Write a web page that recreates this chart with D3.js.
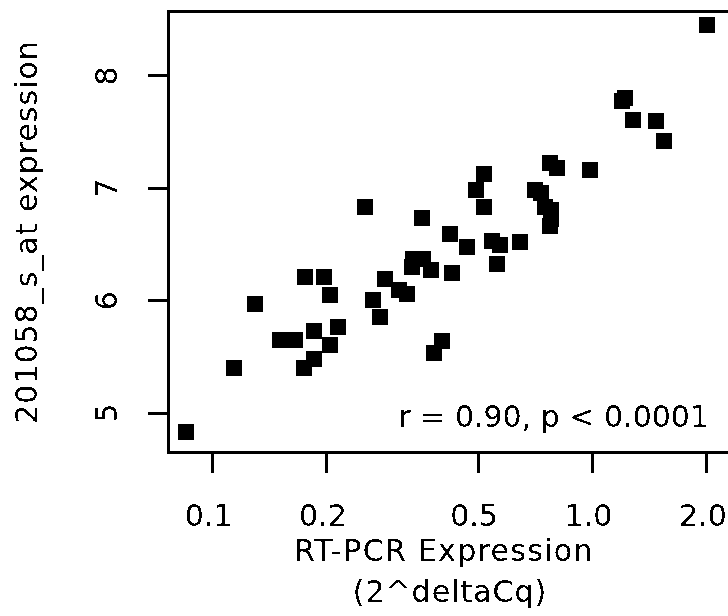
<!DOCTYPE html>
<html>
<head>
<meta charset="utf-8">
<script src="https://cdn.jsdelivr.net/npm/d3@7/dist/d3.min.js"></script>
<style>
    html, body { margin: 0; padding: 0; background: #fff; }
    svg { display: block; }
    text { font-family: "DejaVu Sans", sans-serif; font-size: 30px; fill: #000; }
</style>
</head>
<body>
<div id="chart"></div>
<script>
// RT-PCR expression (2^deltaCq), log axis
const rtPcr = [2.01, 1.20, 1.22, 1.28, 1.47, 1.55, 0.985, 0.775, 0.81, 0.521,
    0.495, 0.521, 0.253, 0.356, 0.708, 0.734, 0.752, 0.78, 0.775, 0.78,
    0.424, 0.47, 0.428, 0.285, 0.31, 0.325, 0.266, 0.276, 0.338, 0.335,
    0.36, 0.376, 0.176, 0.197, 0.204, 0.13, 0.186, 0.215, 0.151, 0.165,
    0.204, 0.186, 0.175, 0.1145, 0.546, 0.572, 0.646, 0.561, 0.403, 0.383,
    0.0853];

// 201058_s_at array expression
const probeExpr = [8.45, 7.77, 7.80, 7.60, 7.59, 7.42, 7.16, 7.22, 7.18, 7.12,
    6.98, 6.83, 6.83, 6.73, 6.98, 6.95, 6.83, 6.80, 6.66, 6.72,
    6.59, 6.47, 6.24, 6.19, 6.09, 6.06, 6.00, 5.85, 6.37, 6.30,
    6.37, 6.27, 6.21, 6.21, 6.05, 5.97, 5.73, 5.76, 5.65, 5.65,
    5.60, 5.48, 5.40, 5.40, 6.53, 6.49, 6.52, 6.32, 5.64, 5.53,
    4.83];

const xTicks = [0.1, 0.2, 0.5, 1.0, 2.0];
const yTicks = [5, 6, 7, 8];
const xTitle = ["RT-PCR Expression", "(2^deltaCq)"];
const yTitle = "201058_s_at expression";
const statText = "r = 0.90, p < 0.0001";

const width = 728, height = 616;
const box = { left: 168.5, top: 11.5, bottom: 452.5, right: 760 };

const x = d3.scaleLog().domain([0.1, 1]).range([212, 592]);
const y = d3.scaleLinear().domain([5, 8]).range([412.7, 75.35]);

const svg = d3.select("#chart").append("svg")
    .attr("width", width)
    .attr("height", height);

// crisp, un-smoothed look of the original bitmap
const defs = svg.append("defs");
const f = defs.append("filter").attr("id", "crisp");
f.append("feComponentTransfer")
    .append("feFuncA").attr("type", "discrete").attr("tableValues", "0 1");

const g = svg.append("g").attr("filter", "url(#crisp)");

// frame (right side runs off the picture)
g.append("path")
    .attr("d", `M${box.right},${box.top}H${box.left}V${box.bottom}H${box.right}`)
    .attr("fill", "none")
    .attr("stroke", "#000")
    .attr("stroke-width", 3);

// x axis
const xAxis = g.append("g")
    .attr("transform", `translate(0,${box.bottom})`)
    .call(d3.axisBottom(x).tickValues(xTicks).tickSize(21).tickFormat(d3.format(".1f")));
xAxis.select(".domain").remove();
xAxis.selectAll(".tick line").attr("stroke", "#000").attr("stroke-width", 3);
xAxis.selectAll(".tick text")
    .attr("y", 73)
    .attr("dy", null)
    .attr("x", -4)
    .attr("font-size", null)
    .attr("font-family", null)
    .attr("fill", "#000");

// y axis, labels rotated as in R
const yAxis = g.append("g")
    .attr("transform", `translate(${box.left},0)`)
    .call(d3.axisLeft(y).tickValues(yTicks).tickSize(21).tickFormat(d3.format("d")));
yAxis.select(".domain").remove();
yAxis.selectAll(".tick line").attr("stroke", "#000").attr("stroke-width", 3);
yAxis.selectAll(".tick text")
    .attr("x", null)
    .attr("dy", null)
    .attr("text-anchor", "middle")
    .attr("transform", "translate(-52,0) rotate(-90)")
    .attr("font-size", null)
    .attr("font-family", null)
    .attr("fill", "#000");

// points
const pts = d3.zip(rtPcr, probeExpr);
const s = 16;
g.append("g")
    .selectAll("rect")
    .data(pts)
    .join("rect")
    .attr("x", d => x(d[0]) - s / 2)
    .attr("y", d => y(d[1]) - s / 2)
    .attr("width", s)
    .attr("height", s)
    .attr("fill", "#000")
    .attr("shape-rendering", "crispEdges");

// correlation note
g.append("text")
    .attr("x", 709)
    .attr("y", 427)
    .attr("text-anchor", "end")
    .text(statText);

// axis titles
g.append("text")
    .attr("x", 444)
    .attr("y", 561)
    .attr("text-anchor", "middle")
    .attr("letter-spacing", 1.3)
    .text(xTitle[0]);
g.append("text")
    .attr("x", 450)
    .attr("y", 602)
    .attr("text-anchor", "middle")
    .attr("letter-spacing", 1)
    .text(xTitle[1]);

g.append("text")
    .attr("transform", "translate(37,232) rotate(-90)")
    .attr("text-anchor", "middle")
    .attr("letter-spacing", 1)
    .text(yTitle);
</script>
</body>
</html>
